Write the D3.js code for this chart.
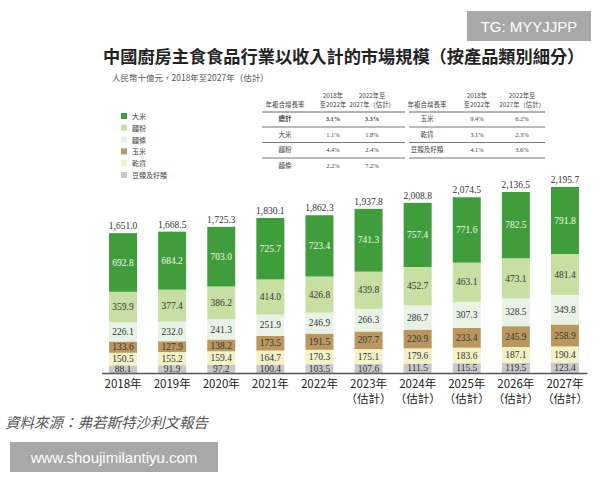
<!DOCTYPE html>
<html>
<head>
<meta charset="utf-8">
<script src="https://cdn.jsdelivr.net/npm/d3@7"></script>
<style>
body { margin: 0; background: #fff; }
svg { display: block; }
</style>
</head>
<body>
<script>
// categories / series
var years = ["2018年", "2019年", "2020年", "2021年", "2022年", "2023年", "2024年", "2025年", "2026年", "2027年"];
var estimated = [false, false, false, false, false, true, true, true, true, true];
var rice = [692.8, 684.2, 703.0, 725.7, 723.4, 741.3, 757.4, 771.6, 782.5, 791.8];
var flour = [359.9, 377.4, 386.2, 414.0, 426.8, 439.8, 452.7, 463.1, 473.1, 481.4];
var noodles = [226.1, 232.0, 241.3, 251.9, 246.9, 266.3, 286.7, 307.3, 328.5, 349.8];
var corn = [133.6, 127.9, 138.2, 173.5, 191.5, 207.7, 220.9, 233.4, 245.9, 258.9];
var dried = [150.5, 155.2, 159.4, 164.7, 170.3, 175.1, 179.6, 183.6, 187.1, 190.4];
var beans = [88.1, 91.9, 97.2, 100.4, 103.5, 107.6, 111.5, 115.5, 119.5, 123.4];
var totals = [1651.0, 1668.5, 1725.3, 1830.1, 1862.3, 1937.8, 2008.8, 2074.5, 2136.5, 2195.7];

var seriesNames = ["大米", "麵粉", "麵條", "玉米", "乾貨", "豆類及籽類"];
var stackOrder = ["豆類及籽類", "乾貨", "玉米", "麵條", "麵粉", "大米"]; // bottom -> top

// CAGR tables
var cagrHeader = ["年複合增長率", ["2018年", "至2022年"], ["2022年至", "2027年（估計）"]];
var cagrLeft = [["總計", "3.1%", "3.3%"], ["大米", "1.1%", "1.8%"], ["麵粉", "4.4%", "2.4%"], ["麵條", "2.2%", "7.2%"]];
var cagrRight = [["玉米", "9.4%", "6.2%"], ["乾貨", "3.1%", "2.3%"], ["豆類及籽類", "4.1%", "3.6%"]];

var colors = {
    "大米": "#3f9e3b",
    "麵粉": "#c8dfa4",
    "麵條": "#e9f3e5",
    "玉米": "#b9975f",
    "乾貨": "#f3f1c6",
    "豆類及籽類": "#c9c9cc"
};
var textColors = { "大米": "#f2fbe8" };

var values = { "大米": rice, "麵粉": flour, "麵條": noodles, "玉米": corn, "乾貨": dried, "豆類及籽類": beans };

var rows = years.map(function(y, i) {
    var r = { year: y, total: totals[i], est: estimated[i] };
    seriesNames.forEach(function(s) { r[s] = values[s][i]; });
    return r;
});

var svg = d3.select("body").append("svg")
    .attr("width", 600)
    .attr("height", 480);

var cjk = "'Noto Sans CJK TC', 'Noto Sans CJK SC', sans-serif";
var serif = "'Liberation Serif', 'DejaVu Serif', serif";

// title
svg.append("text")
    .attr("x", 103).attr("y", 63)
    .attr("font-family", cjk)
    .attr("font-size", 17.2)
    .attr("font-weight", "bold")
    .attr("fill", "#222")
    .text("中國廚房主食食品行業以收入計的市場規模（按產品類別細分）");

svg.append("text")
    .attr("x", 112).attr("y", 81)
    .attr("font-family", cjk)
    .attr("font-size", 8.5)
    .attr("fill", "#555")
    .text("人民幣十億元，2018年至2027年（估計）");

// scales
var x = d3.scaleBand()
    .domain(years)
    .range([98.5, 589.5])
    .paddingInner(0.43)
    .paddingOuter(0.215);

var y = d3.scaleLinear()
    .domain([0, 2195.7])
    .range([373, 187]);

var stack = d3.stack().keys(stackOrder);
var layers = stack(rows);

var g = svg.append("g");

layers.forEach(function(layer) {
    var key = layer.key;
    g.selectAll(null)
        .data(layer)
        .enter()
        .append("rect")
        .attr("x", function(d) { return x(d.data.year); })
        .attr("y", function(d) { return y(d[1]); })
        .attr("width", x.bandwidth())
        .attr("height", function(d) { return y(d[0]) - y(d[1]); })
        .attr("fill", colors[key]);

    g.selectAll(null)
        .data(layer)
        .enter()
        .append("text")
        .attr("x", function(d) { return x(d.data.year) + x.bandwidth() / 2; })
        .attr("y", function(d) { return (y(d[0]) + y(d[1])) / 2 + 3.2; })
        .attr("text-anchor", "middle")
        .attr("font-family", serif)
        .attr("font-size", 9.5)
        .attr("fill", textColors[key] || "#333")
        .text(function(d) { return d3.format(",.1f")(d.data[key]); });
});

// totals on top
g.selectAll(".total")
    .data(rows)
    .enter()
    .append("text")
    .attr("class", "total")
    .attr("x", function(d) { return x(d.year) + x.bandwidth() / 2; })
    .attr("y", function(d) { return y(d.total) - 4; })
    .attr("text-anchor", "middle")
    .attr("font-family", serif)
    .attr("font-size", 9.5)
    .attr("fill", "#333")
    .text(function(d) { return d3.format(",.1f")(d.total); });

// x axis
var xAxis = svg.append("g")
    .attr("transform", "translate(0,373)")
    .call(d3.axisBottom(x).tickSize(0).tickFormat(""));
xAxis.select(".domain")
    .attr("d", "M102,0.5H587.5")
    .attr("stroke", "#555")
    .attr("stroke-width", 1.5);

var labels = svg.selectAll(".xl")
    .data(rows)
    .enter()
    .append("text")
    .attr("class", "xl")
    .attr("x", function(d) { return x(d.year) + x.bandwidth() / 2; })
    .attr("y", 388)
    .attr("text-anchor", "middle")
    .attr("font-family", cjk)
    .attr("font-size", 11.5)
    .attr("fill", "#222");
labels.append("tspan").text(function(d) { return d.year; });
labels.filter(function(d) { return d.est; })
    .append("tspan")
    .attr("x", function(d) { return x(d.year) + x.bandwidth() / 2; })
    .attr("dy", 15)
    .text("（估計）");

// legend
var legend = svg.selectAll(".leg")
    .data(seriesNames)
    .enter()
    .append("g")
    .attr("class", "leg")
    .attr("transform", function(d, i) { return "translate(121," + (113 + i * 11.8) + ")"; });
legend.append("rect")
    .attr("width", 6).attr("height", 6)
    .attr("fill", function(d) { return colors[d]; });
legend.append("text")
    .attr("x", 11).attr("y", 6)
    .attr("font-family", cjk)
    .attr("font-size", 7)
    .attr("fill", "#444")
    .text(function(d) { return d; });

// CAGR tables
function drawTable(data, x0, x1, cols) {
    var t = svg.append("g");
    t.append("text").attr("x", cols[0]).attr("y", 107)
        .attr("text-anchor", "middle").attr("font-family", cjk)
        .attr("font-size", 6.5).attr("fill", "#444").text(cagrHeader[0]);
    [1, 2].forEach(function(j) {
        cagrHeader[j].forEach(function(line, k) {
            t.append("text").attr("x", cols[j]).attr("y", 98 + k * 9)
                .attr("text-anchor", "middle").attr("font-family", cjk)
                .attr("font-size", 6.3).attr("fill", "#444").text(line);
        });
    });

    t.append("line").attr("x1", x0).attr("x2", x1)
        .attr("y1", 112).attr("y2", 112)
        .attr("stroke", "#666").attr("stroke-width", 1.2);

    data.forEach(function(r, i) {
        var yy = 121 + i * 15.5;
        r.forEach(function(c, j) {
            t.append("text").attr("x", cols[j]).attr("y", yy)
                .attr("text-anchor", "middle")
                .attr("font-family", j == 0 ? cjk : serif)
                .attr("font-size", 6.5)
                .attr("font-weight", (r[0] == "總計") ? "bold" : "normal")
                .attr("fill", "#444").text(c);
        });
        if (i < data.length - 1 || data.length == 3) {
            t.append("line").attr("x1", x0).attr("x2", x1)
                .attr("y1", yy + 6).attr("y2", yy + 6)
                .attr("stroke", "#777").attr("stroke-width", 1.1);
        }
    });
}
drawTable(cagrLeft, 262, 405, [285, 333, 372]);
drawTable(cagrRight, 409, 545, [427, 477, 522]);

// source
svg.append("text")
    .attr("x", 5).attr("y", 428)
    .attr("font-family", cjk)
    .attr("font-size", 14.5)
    .attr("font-style", "italic")
    .attr("fill", "#555")
    .text("資料來源：弗若斯特沙利文報告");

// watermark boxes
svg.append("rect").attr("x", 467).attr("y", 11).attr("width", 124).attr("height", 30).attr("fill", "#a8a8a8");
svg.append("text").attr("x", 529).attr("y", 32).attr("text-anchor", "middle")
    .attr("font-family", "'Liberation Sans', Arial, sans-serif").attr("font-size", 15)
    .attr("fill", "#fff").text("TG: MYYJJPP");
svg.append("rect").attr("x", 10).attr("y", 442).attr("width", 208).attr("height", 30).attr("fill", "#a8a8a8");
svg.append("text").attr("x", 114).attr("y", 463).attr("text-anchor", "middle")
    .attr("font-family", "'Liberation Sans', Arial, sans-serif").attr("font-size", 15)
    .attr("fill", "#fff").text("www.shoujimilantiyu.com");
</script>
</body>
</html>
